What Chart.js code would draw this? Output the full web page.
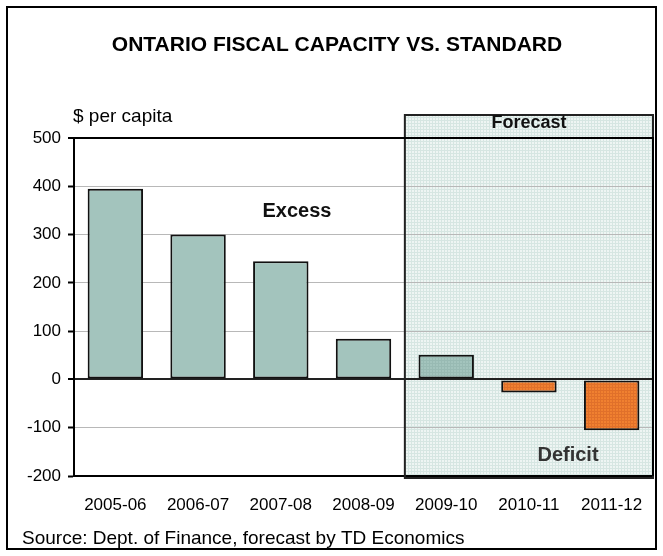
<!DOCTYPE html>
<html>
<head>
<meta charset="utf-8">
<script src="https://cdn.jsdelivr.net/npm/chart.js@4/dist/chart.umd.min.js"></script>
<style>
  body { margin: 0; background: #fff; }
  #wrap { position: relative; width: 663px; height: 556px; }
</style>
</head>
<body>
<div id="wrap"><canvas id="myChart" width="663" height="556"></canvas></div>
<script>
// chart data
const years = ["2005-06", "2006-07", "2007-08", "2008-09", "2009-10", "2010-11", "2011-12"];
const capacityGap = [395, 300, 245, 84, 51, -27, -105];
const forecastStart = 4; // first forecast year index
const yTicks = [-200, -100, 0, 100, 200, 300, 400, 500];

const FONT = "Arial, 'Liberation Sans', sans-serif";

// small grid pattern like the shaded forecast area
function makePattern(base, line) {
  let c = document.createElement("canvas");
  c.width = 3;
  c.height = 3;
  let p = c.getContext("2d");
  p.fillStyle = base;
  p.fillRect(0, 0, 3, 3);
  p.fillStyle = line;
  p.fillRect(0, 0, 3, 1);
  p.fillRect(0, 0, 1, 3);
  return p.createPattern(c, "repeat");
}

let ctx = document.getElementById("myChart").getContext("2d");
const shade = makePattern("#eef5f3", "#d6e6e2");
const tealFc = makePattern("#a3c4bd", "#98bab3");
const orangeFc = makePattern("#f08030", "#e0702a");

let barColors = capacityGap.map((v, i) => {
  if (i >= forecastStart) return v < 0 ? orangeFc : tealFc;
  return v < 0 ? "#f08030" : "#a3c4bd";
});

// forecast box behind the grid, frame and texts on top
const decorations = {
  id: "decorations",
  beforeDraw(chart) {
    const c = chart.ctx;
    const a = chart.chartArea;
    const x = chart.scales.x;
    const left = (x.getPixelForValue(forecastStart - 1) + x.getPixelForValue(forecastStart)) / 2;
    c.save();
    c.fillStyle = shade;
    c.fillRect(left, a.top - 23, a.right - left, a.bottom - a.top + 25);
    c.restore();
  },
  afterDraw(chart) {
    const c = chart.ctx;
    const a = chart.chartArea;
    const x = chart.scales.x;
    const left = (x.getPixelForValue(forecastStart - 1) + x.getPixelForValue(forecastStart)) / 2;
    c.save();
    // forecast box border
    c.strokeStyle = "#222";
    c.lineWidth = 2;
    c.strokeRect(left, a.top - 23, a.right - left, a.bottom - a.top + 25);
    // plot frame top and right
    c.strokeStyle = "#000";
    c.beginPath();
    c.moveTo(a.left, a.top);
    c.lineTo(a.right, a.top);
    c.lineTo(a.right, a.bottom);
    c.stroke();
    // outer border
    c.lineWidth = 2;
    c.strokeRect(7, 7, 649, 542);

    c.fillStyle = "#000";
    c.textBaseline = "middle";
    c.textAlign = "center";
    c.font = "bold 21px " + FONT;
    c.fillText("ONTARIO FISCAL CAPACITY VS. STANDARD", 337, 45);
    c.font = "bold 18px " + FONT;
    c.fillStyle = "#111";
    c.fillText("Forecast", (left + a.right) / 2, 123);
    c.font = "bold 20px " + FONT;
    c.fillText("Excess", 297, 211);
    c.fillStyle = "#333";
    c.fillText("Deficit", 568, 455);
    c.fillStyle = "#000";
    c.textAlign = "left";
    c.font = "19px " + FONT;
    c.fillText("$ per capita", 73, 117);
    c.fillText("Source: Dept. of Finance, forecast by TD Economics", 22, 539);
    c.restore();
  }
};

let chart = new Chart(ctx, {
  type: "bar",
  data: {
    labels: years,
    datasets: [
      {
        data: capacityGap,
        backgroundColor: barColors,
        borderColor: "#111",
        borderWidth: 2,
        borderSkipped: false,
        categoryPercentage: 1,
        barPercentage: 0.67
      }
    ]
  },
  options: {
    responsive: false,
    animation: false,
    layout: { padding: { left: 0, top: 138, right: 10, bottom: 0 } },
    plugins: {
      legend: { display: false },
      tooltip: { enabled: false }
    },
    scales: {
      x: {
        afterFit(scale) { scale.height = 80; },
        grid: { display: false, drawTicks: false },
        border: { color: "#000", width: 2 },
        ticks: { color: "#000", padding: 19, maxRotation: 0, autoSkip: false, font: { family: FONT, size: 17 } }
      },
      y: {
        min: -200,
        max: 500,
        afterFit(scale) { scale.width = 74; },
        afterBuildTicks(scale) { scale.ticks = yTicks.map(v => ({ value: v })); },
        grid: {
          color: c => (c.tick && c.tick.value === 0 ? "#222" : c.tick && c.tick.value === 500 ? "#000" : "#b8b8b8"),
          lineWidth: c => (c.tick && (c.tick.value === 0 || c.tick.value === 500) ? 2 : 1),
          tickColor: "#000",
          tickWidth: 2,
          tickLength: 6
        },
        border: { color: "#000", width: 2 },
        ticks: { color: "#000", padding: 7, font: { family: FONT, size: 17 } }
      }
    }
  },
  plugins: [decorations]
});
</script>
</body>
</html>
